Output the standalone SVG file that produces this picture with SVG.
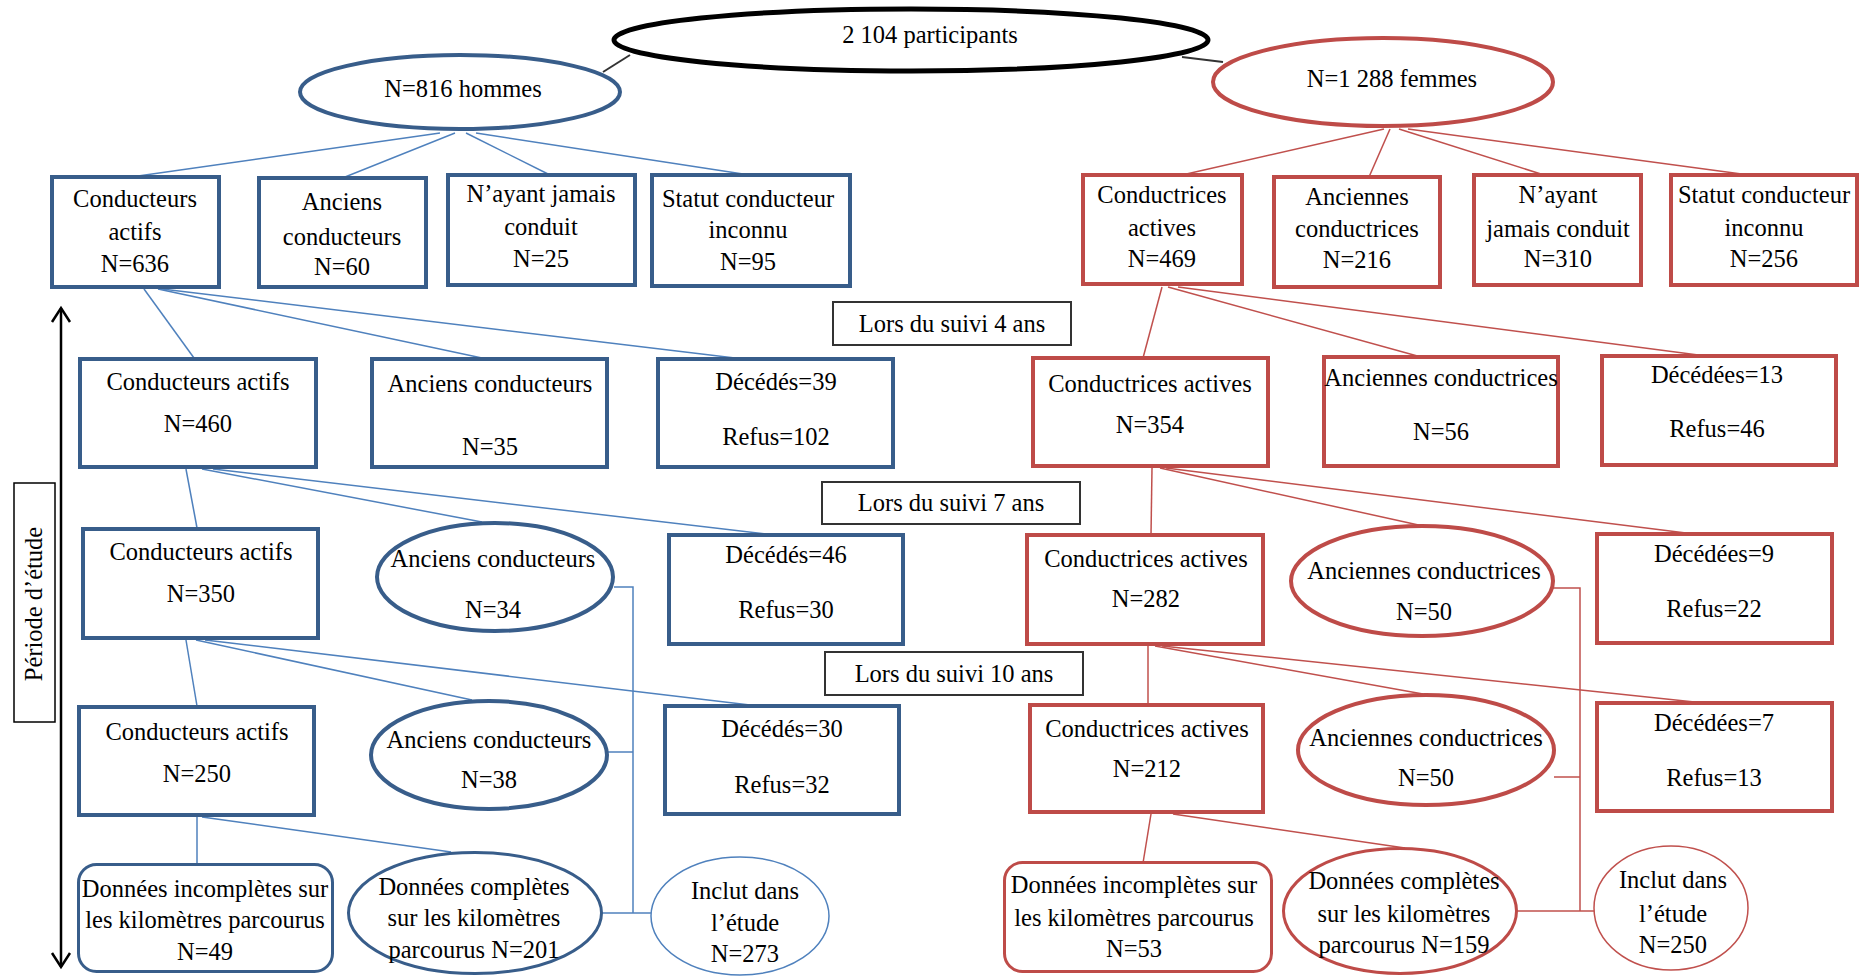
<svg xmlns="http://www.w3.org/2000/svg" width="1865" height="976" viewBox="0 0 1865 976">
<style>
.t{font-family:"Liberation Serif","Times New Roman",serif;font-size:24.5px;fill:#000;text-anchor:middle}
.bb{fill:#fff;stroke:#385D8A;stroke-width:4}
.rb{fill:#fff;stroke:#BE4B48;stroke-width:4}
.bt{fill:#fff;stroke:#385D8A;stroke-width:3}
.rt{fill:#fff;stroke:#BE4B48;stroke-width:3}
.bi{fill:#fff;stroke:#4F81BD;stroke-width:1.5}
.ri{fill:#fff;stroke:#C0504D;stroke-width:1.5}
.lab{fill:#fff;stroke:#333;stroke-width:2}
.bl{stroke:#4F81BD;stroke-width:1.5;fill:none}
.rl{stroke:#C0504D;stroke-width:1.5;fill:none}
.kl{stroke:#333;stroke-width:2;fill:none}
</style>
<rect width="1865" height="976" fill="#fff"/>
<g id="connectors">
<line class="kl" x1="630" y1="55" x2="603" y2="72"/>
<line class="kl" x1="1182" y1="57" x2="1223" y2="62"/>
<!-- men -->
<line class="bl" x1="440" y1="133" x2="138" y2="176"/>
<line class="bl" x1="455" y1="133" x2="345" y2="177"/>
<line class="bl" x1="466" y1="133" x2="548" y2="174"/>
<line class="bl" x1="476" y1="133" x2="743" y2="174"/>
<line class="bl" x1="144" y1="289" x2="194" y2="358"/>
<line class="bl" x1="158" y1="289" x2="482" y2="358"/>
<line class="bl" x1="162" y1="289" x2="735" y2="358"/>
<line class="bl" x1="186" y1="469" x2="197" y2="528"/>
<line class="bl" x1="202" y1="469" x2="482" y2="522"/>
<line class="bl" x1="213" y1="469" x2="766" y2="534"/>
<line class="bl" x1="186" y1="640" x2="197" y2="706"/>
<line class="bl" x1="196" y1="640" x2="472" y2="700"/>
<line class="bl" x1="205" y1="640" x2="750" y2="705"/>
<line class="bl" x1="197" y1="817" x2="197" y2="864"/>
<line class="bl" x1="202" y1="817" x2="451" y2="852"/>
<polyline class="bl" points="614,587 633,587 633,913"/>
<line class="bl" x1="608" y1="752" x2="633" y2="752"/>
<line class="bl" x1="602" y1="913" x2="651" y2="913"/>
<!-- women -->
<line class="rl" x1="1384" y1="129" x2="1182" y2="175"/>
<line class="rl" x1="1390" y1="129" x2="1369" y2="177"/>
<line class="rl" x1="1399" y1="129" x2="1544" y2="175"/>
<line class="rl" x1="1408" y1="129" x2="1749" y2="175"/>
<line class="rl" x1="1162" y1="287" x2="1143" y2="358"/>
<line class="rl" x1="1168" y1="287" x2="1421" y2="357"/>
<line class="rl" x1="1178" y1="287" x2="1706" y2="356"/>
<line class="rl" x1="1152" y1="468" x2="1151" y2="535"/>
<line class="rl" x1="1160" y1="468" x2="1423" y2="526"/>
<line class="rl" x1="1166" y1="468" x2="1694" y2="534"/>
<line class="rl" x1="1148" y1="646" x2="1148" y2="705"/>
<line class="rl" x1="1155" y1="646" x2="1423" y2="694"/>
<line class="rl" x1="1162" y1="646" x2="1704" y2="703"/>
<line class="rl" x1="1151" y1="814" x2="1143" y2="863"/>
<line class="rl" x1="1173" y1="814" x2="1405" y2="848"/>
<polyline class="rl" points="1553,588 1580,588 1580,911"/>
<line class="rl" x1="1554" y1="777" x2="1580" y2="777"/>
<line class="rl" x1="1517" y1="911" x2="1595" y2="911"/>
</g>

<g id="period">
<rect x="14" y="483" width="41" height="239" fill="#fff" stroke="#000" stroke-width="1.5"/>
<text class="t" x="42" y="604" transform="rotate(-90 42 604)" font-size="24">Période d’étude</text>
<line x1="61" y1="308" x2="61" y2="967" stroke="#000" stroke-width="2.5"/>
<polyline points="52,322 61,308 70,322" fill="none" stroke="#000" stroke-width="2.5"/>
<polyline points="52,953 61,967 70,953" fill="none" stroke="#000" stroke-width="2.5"/>
</g>

<g id="total">
<ellipse cx="911" cy="40" rx="297" ry="31" fill="#fff" stroke="#000" stroke-width="5"/>
<text class="t" x="930" y="43">2 104 participants</text>
</g>
<g id="hommes">
<ellipse cx="460" cy="92" rx="160" ry="37" class="bb"/>
<text class="t" x="463" y="97">N=816 hommes</text>
</g>
<g id="femmes">
<ellipse cx="1383" cy="82" rx="170" ry="44" class="rb"/>
<text class="t" x="1392" y="87">N=1 288 femmes</text>
</g>

<!-- men row 1 -->
<g id="h-actifs">
<rect x="52" y="177" width="167" height="110" class="bb"/>
<text class="t" x="135" y="207">Conducteurs</text>
<text class="t" x="135" y="240">actifs</text>
<text class="t" x="135" y="272">N=636</text>
</g>
<g id="h-anciens">
<rect x="259" y="178" width="167" height="109" class="bb"/>
<text class="t" x="342" y="210">Anciens</text>
<text class="t" x="342" y="245">conducteurs</text>
<text class="t" x="342" y="275">N=60</text>
</g>
<g id="h-jamais">
<rect x="448" y="175" width="187" height="110" class="bb"/>
<text class="t" x="541" y="202">N’ayant jamais</text>
<text class="t" x="541" y="235">conduit</text>
<text class="t" x="541" y="267">N=25</text>
</g>
<g id="h-inconnu">
<rect x="652" y="175" width="198" height="111" class="bb"/>
<text class="t" x="748" y="207">Statut conducteur</text>
<text class="t" x="748" y="238">inconnu</text>
<text class="t" x="748" y="270">N=95</text>
</g>

<!-- women row 1 -->
<g id="f-actives">
<rect x="1083" y="175" width="159" height="109" class="rb"/>
<text class="t" x="1162" y="203">Conductrices</text>
<text class="t" x="1162" y="236">actives</text>
<text class="t" x="1162" y="267">N=469</text>
</g>
<g id="f-anciennes">
<rect x="1274" y="177" width="166" height="110" class="rb"/>
<text class="t" x="1357" y="205">Anciennes</text>
<text class="t" x="1357" y="237">conductrices</text>
<text class="t" x="1357" y="268">N=216</text>
</g>
<g id="f-jamais">
<rect x="1474" y="175" width="167" height="110" class="rb"/>
<text class="t" x="1558" y="203">N’ayant</text>
<text class="t" x="1558" y="237">jamais conduit</text>
<text class="t" x="1558" y="267">N=310</text>
</g>
<g id="f-inconnu">
<rect x="1671" y="175" width="186" height="110" class="rb"/>
<text class="t" x="1764" y="203">Statut conducteur</text>
<text class="t" x="1764" y="236">inconnu</text>
<text class="t" x="1764" y="267">N=256</text>
</g>

<!-- labels -->
<g id="suivi4">
<rect x="833" y="302" width="238" height="43" class="lab"/>
<text class="t" x="952" y="332">Lors du suivi 4 ans</text>
</g>
<g id="suivi7">
<rect x="822" y="482" width="258" height="42" class="lab"/>
<text class="t" x="951" y="511">Lors du suivi 7 ans</text>
</g>
<g id="suivi10">
<rect x="825" y="652" width="258" height="43" class="lab"/>
<text class="t" x="954" y="682">Lors du suivi 10 ans</text>
</g>

<!-- men 4 ans -->
<g id="h4-actifs">
<rect x="80" y="359" width="236" height="108" class="bb"/>
<text class="t" x="198" y="390">Conducteurs actifs</text>
<text class="t" x="198" y="432">N=460</text>
</g>
<g id="h4-anciens">
<rect x="372" y="359" width="235" height="108" class="bb"/>
<text class="t" x="490" y="392">Anciens conducteurs</text>
<text class="t" x="490" y="455">N=35</text>
</g>
<g id="h4-decedes">
<rect x="658" y="359" width="235" height="108" class="bb"/>
<text class="t" x="776" y="390">Décédés=39</text>
<text class="t" x="776" y="445">Refus=102</text>
</g>

<!-- women 4 ans -->
<g id="f4-actives">
<rect x="1033" y="358" width="235" height="108" class="rb"/>
<text class="t" x="1150" y="392">Conductrices actives</text>
<text class="t" x="1150" y="433">N=354</text>
</g>
<g id="f4-anciennes">
<rect x="1324" y="357" width="234" height="109" class="rb"/>
<text class="t" x="1441" y="386">Anciennes conductrices</text>
<text class="t" x="1441" y="440">N=56</text>
</g>
<g id="f4-decedees">
<rect x="1602" y="356" width="234" height="109" class="rb"/>
<text class="t" x="1717" y="383">Décédées=13</text>
<text class="t" x="1717" y="437">Refus=46</text>
</g>

<!-- men 7 ans -->
<g id="h7-actifs">
<rect x="83" y="529" width="235" height="109" class="bb"/>
<text class="t" x="201" y="560">Conducteurs actifs</text>
<text class="t" x="201" y="602">N=350</text>
</g>
<g id="h7-anciens">
<ellipse cx="495" cy="577" rx="118" ry="54" class="bb"/>
<text class="t" x="493" y="567">Anciens conducteurs</text>
<text class="t" x="493" y="618">N=34</text>
</g>
<g id="h7-decedes">
<rect x="669" y="535" width="234" height="109" class="bb"/>
<text class="t" x="786" y="563">Décédés=46</text>
<text class="t" x="786" y="618">Refus=30</text>
</g>

<!-- women 7 ans -->
<g id="f7-actives">
<rect x="1027" y="535" width="236" height="109" class="rb"/>
<text class="t" x="1146" y="567">Conductrices actives</text>
<text class="t" x="1146" y="607">N=282</text>
</g>
<g id="f7-anciennes">
<ellipse cx="1422" cy="581" rx="131" ry="55" class="rb"/>
<text class="t" x="1424" y="579">Anciennes conductrices</text>
<text class="t" x="1424" y="620">N=50</text>
</g>
<g id="f7-decedees">
<rect x="1597" y="534" width="235" height="109" class="rb"/>
<text class="t" x="1714" y="562">Décédées=9</text>
<text class="t" x="1714" y="617">Refus=22</text>
</g>

<!-- men 10 ans -->
<g id="h10-actifs">
<rect x="79" y="707" width="235" height="108" class="bb"/>
<text class="t" x="197" y="740">Conducteurs actifs</text>
<text class="t" x="197" y="782">N=250</text>
</g>
<g id="h10-anciens">
<ellipse cx="489" cy="755" rx="118" ry="54" class="bb"/>
<text class="t" x="489" y="748">Anciens conducteurs</text>
<text class="t" x="489" y="788">N=38</text>
</g>
<g id="h10-decedes">
<rect x="665" y="706" width="234" height="108" class="bb"/>
<text class="t" x="782" y="737">Décédés=30</text>
<text class="t" x="782" y="793">Refus=32</text>
</g>

<!-- women 10 ans -->
<g id="f10-actives">
<rect x="1030" y="705" width="233" height="107" class="rb"/>
<text class="t" x="1147" y="737">Conductrices actives</text>
<text class="t" x="1147" y="777">N=212</text>
</g>
<g id="f10-anciennes">
<ellipse cx="1426" cy="750" rx="128" ry="55" class="rb"/>
<text class="t" x="1426" y="746">Anciennes conductrices</text>
<text class="t" x="1426" y="786">N=50</text>
</g>
<g id="f10-decedees">
<rect x="1597" y="703" width="235" height="108" class="rb"/>
<text class="t" x="1714" y="731">Décédées=7</text>
<text class="t" x="1714" y="786">Refus=13</text>
</g>

<!-- men final -->
<g id="h-incompletes">
<rect x="78.5" y="864.5" width="254" height="107" rx="18" class="bt"/>
<text class="t" x="205" y="897">Données incomplètes sur</text>
<text class="t" x="205" y="928">les kilomètres parcourus</text>
<text class="t" x="205" y="960">N=49</text>
</g>
<g id="h-completes">
<ellipse cx="475" cy="913" rx="126.5" ry="60.5" class="bt"/>
<text class="t" x="474" y="895">Données complètes</text>
<text class="t" x="474" y="926">sur les kilomètres</text>
<text class="t" x="474" y="958">parcourus N=201</text>
</g>
<g id="h-inclut">
<ellipse cx="740" cy="916" rx="89" ry="59" class="bi"/>
<text class="t" x="745" y="899">Inclut dans</text>
<text class="t" x="745" y="931">l’étude</text>
<text class="t" x="745" y="962">N=273</text>
</g>

<!-- women final -->
<g id="f-incompletes">
<rect x="1004.5" y="862.5" width="267" height="109" rx="18" class="rt"/>
<text class="t" x="1134" y="893">Données incomplètes sur</text>
<text class="t" x="1134" y="926">les kilomètres parcourus</text>
<text class="t" x="1134" y="957">N=53</text>
</g>
<g id="f-completes">
<ellipse cx="1400" cy="911" rx="116.5" ry="62.5" class="rt"/>
<text class="t" x="1404" y="889">Données complètes</text>
<text class="t" x="1404" y="922">sur les kilomètres</text>
<text class="t" x="1404" y="953">parcourus N=159</text>
</g>
<g id="f-inclut">
<ellipse cx="1671" cy="908" rx="77" ry="62" class="ri"/>
<text class="t" x="1673" y="888">Inclut dans</text>
<text class="t" x="1673" y="922">l’étude</text>
<text class="t" x="1673" y="953">N=250</text>
</g>
</svg>
